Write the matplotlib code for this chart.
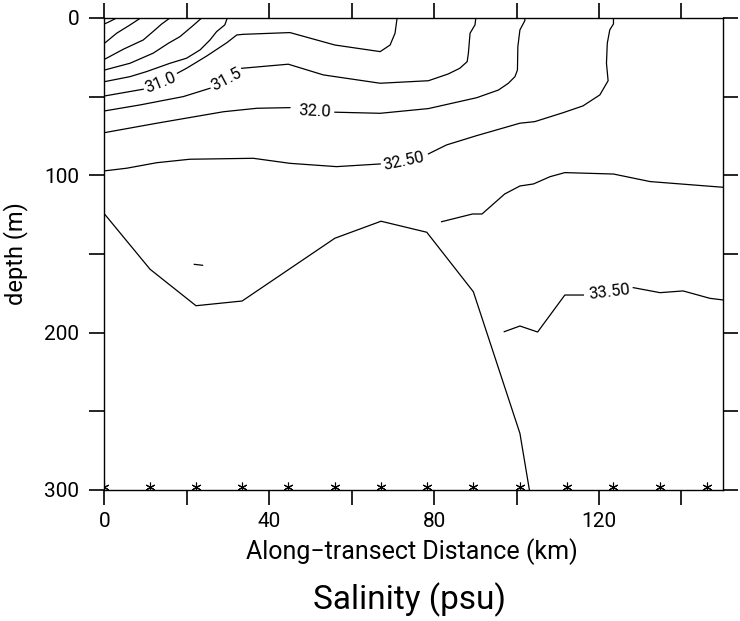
import matplotlib

matplotlib.use("Agg")

import matplotlib.pyplot as plt
import numpy as np
from matplotlib.ticker import FuncFormatter, MultipleLocator

plt.rcParams["font.family"] = ["Roboto", "DejaVu Sans"]
plt.rcParams["text.color"] = "black"
plt.rcParams["xtick.color"] = "black"
plt.rcParams["ytick.color"] = "black"

nan = np.nan

# station positions along the transect (km)
station_km = [0, 11.1, 22.2, 33.4, 44.6, 55.9, 67.0, 78.2, 89.4, 100.8,
              112.2, 123.5, 134.8, 146.3]
station_depth = 298

# salinity isolines, (km, depth) with nan where the line is broken for a label
s28_5_km = [2.96, 1.33, 0]
s28_5_dep = [0, 2.2, 3.8]

s29_0_km = [8.78, 6.19, 2.96, 0]
s29_0_dep = [0, 4.45, 9.7, 16.1]

s29_5_km = [15.9, 13.9, 12.25, 9.4, 4.56, 0]
s29_5_dep = [0, 3.8, 7.6, 14.0, 19.9, 26.3]

s30_0_km = [23.6, 21.2, 18.3, 15.5, 11.8, 6.19, 0]
s30_0_dep = [0, 5.5, 11.9, 16.1, 22.4, 28.8, 33.1]

s30_5_km = [29.8, 29.2, 27.2, 25.6, 23.2, 19.9, 15.9, 10.2, 6.2, 0]
s30_5_dep = [0, 4.4, 8.7, 14.0, 20.3, 25.6, 28.8, 34.1, 37.3, 40.5]

s31_0_km = [0, 9.4, nan, 17.7, 19.9, 24.8, 29.7, 32.1, 33.7, 45.0, 55.9,
            66.9, 69.3, 70.5, 71.0]
s31_0_dep = [49.6, 45.3, nan, 35.1, 32.0, 24.2, 15.7, 10.8, 10.4, 9.3, 17.2,
             21.4, 17.2, 9.7, 0]

s31_5_km = [0, 8.6, 19.1, 25.6, nan, 33.3, 44.6, 53.1, 66.9, 78.6, 83.4,
            86.2, 88.0, 88.3, 88.7, 89.9, 90.1]
s31_5_dep = [59.1, 55.3, 50.0, 44.7, nan, 32.0, 29.4, 36.2, 41.5, 39.9, 35.6,
             32.0, 27.8, 22.4, 9.7, 4.4, 0]

s32_0_km = [0, 12.7, 28.9, 37.0, 45.0, nan, 55.9, 66.9, 78.6, 90.3, 95.6,
            98.0, 99.6, 100.2, 100.3, 100.8, 102.0, 102.0]
s32_0_dep = [72.9, 66.9, 59.6, 57.4, 57.0, nan, 59.9, 60.6, 57.6, 50.7, 45.8,
             41.5, 37.3, 33.1, 18.2, 7.6, 1.7, 0]

s32_5_km = [0, 5.4, 12.7, 20.7, 36.1, 45.0, 56.3, 66.9, nan, 78.6, 83.0,
            90.3, 100.8, 104.4, 111.3, 116.1, 120.2, 122.2, 121.8, 122.0,
            122.6, 123.5, 123.5]
s32_5_dep = [97.2, 95.5, 92.0, 89.8, 89.2, 92.4, 94.5, 92.8, nan, 86.4, 80.7,
             74.8, 66.9, 65.9, 60.2, 55.9, 48.9, 39.9, 28.8, 16.1, 7.6, 3.8, 0]

s33_0_km = [81.8, 89.3, 91.6, 97.1, 100.8, 104.1, 108.1, 111.7, 123.5, 132.4,
            150]
s33_0_dep = [129.5, 124.6, 124.6, 111.9, 106.8, 105.5, 100.9, 98.3, 99.2,
             104.0, 107.6]

s33_5_km = [97.0, 100.8, 105.1, 111.7, 116.2, nan, 128.3, 134.8, 140.4,
            146.9, 150]
s33_5_dep = [199.4, 195.8, 199.6, 176.1, 176.1, nan, 171.4, 174.6, 173.5,
             178.2, 179.2]

s34_0_km = [0, 11.05, 22.2, 33.4, 55.9, 67.1, 78.2, 89.5, 100.8, 103.1]
s34_0_dep = [124.6, 159.7, 182.9, 179.9, 140.0, 129.2, 136.2, 174.0, 264.0,
             300]

s34_0b_km = [21.8, 23.8]
s34_0b_dep = [156.6, 157.2]

isolines = [
    (s28_5_km, s28_5_dep), (s29_0_km, s29_0_dep), (s29_5_km, s29_5_dep),
    (s30_0_km, s30_0_dep), (s30_5_km, s30_5_dep), (s31_0_km, s31_0_dep),
    (s31_5_km, s31_5_dep), (s32_0_km, s32_0_dep), (s32_5_km, s32_5_dep),
    (s33_0_km, s33_0_dep), (s33_5_km, s33_5_dep), (s34_0_km, s34_0_dep),
    (s34_0b_km, s34_0b_dep),
]

# inline labels: text, km, depth, angle
label_text = ["31.0", "31.5", "32.0", "32.50", "33.50"]
label_km = [13.6, 29.5, 51.1, 72.6, 122.4]
label_dep = [41.0, 38.8, 59.1, 90.9, 174.2]
label_rot = [22, 28, -3, 12, 7]

fig = plt.figure(figsize=(7.4, 6.21), dpi=100)
ax = fig.add_axes([0.1412, 0.2110, 0.8354, 0.7601])

for km, dep in isolines:
    ax.plot(km, dep, color="black", linewidth=0.9)

for text, km, dep, rot in zip(label_text, label_km, label_dep, label_rot):
    ax.text(km, dep, text, fontsize=12, rotation=rot,
            rotation_mode="anchor", ha="center", va="center")

ax.plot(station_km, [station_depth] * len(station_km), linestyle="none",
        marker=(6, 2, 0), markersize=7, markeredgewidth=0.8, color="black",
        clip_on=True)

ax.set_xlim(0, 150)
ax.set_ylim(300, 0)

ax.xaxis.set_major_locator(MultipleLocator(20))
ax.yaxis.set_major_locator(MultipleLocator(50))
ax.xaxis.set_major_formatter(
    FuncFormatter(lambda v, _: f"{v:.0f}" if round(v) % 40 == 0 else ""))
ax.yaxis.set_major_formatter(
    FuncFormatter(lambda v, _: f"{v:.0f}" if round(v) % 100 == 0 else ""))
ax.tick_params(which="major", direction="out", length=11, width=1.2,
               top=True, right=True, labelsize=15)
ax.tick_params(axis="x", pad=5)
ax.tick_params(axis="y", pad=7)

for spine in ax.spines.values():
    spine.set_linewidth(1.0)
    spine.set_color("black")

ax.set_xlabel("Along\u2212transect Distance (km)", fontsize=18)
ax.set_ylabel("depth (m)", fontsize=17)
ax.xaxis.set_label_coords(0.497, -0.102)
ax.yaxis.set_label_coords(-0.123, 0.5)
fig.text(0.553, 0.034, "Salinity (psu)", fontsize=24, ha="center",
         va="center")

fig.savefig("out.png", dpi=100)
